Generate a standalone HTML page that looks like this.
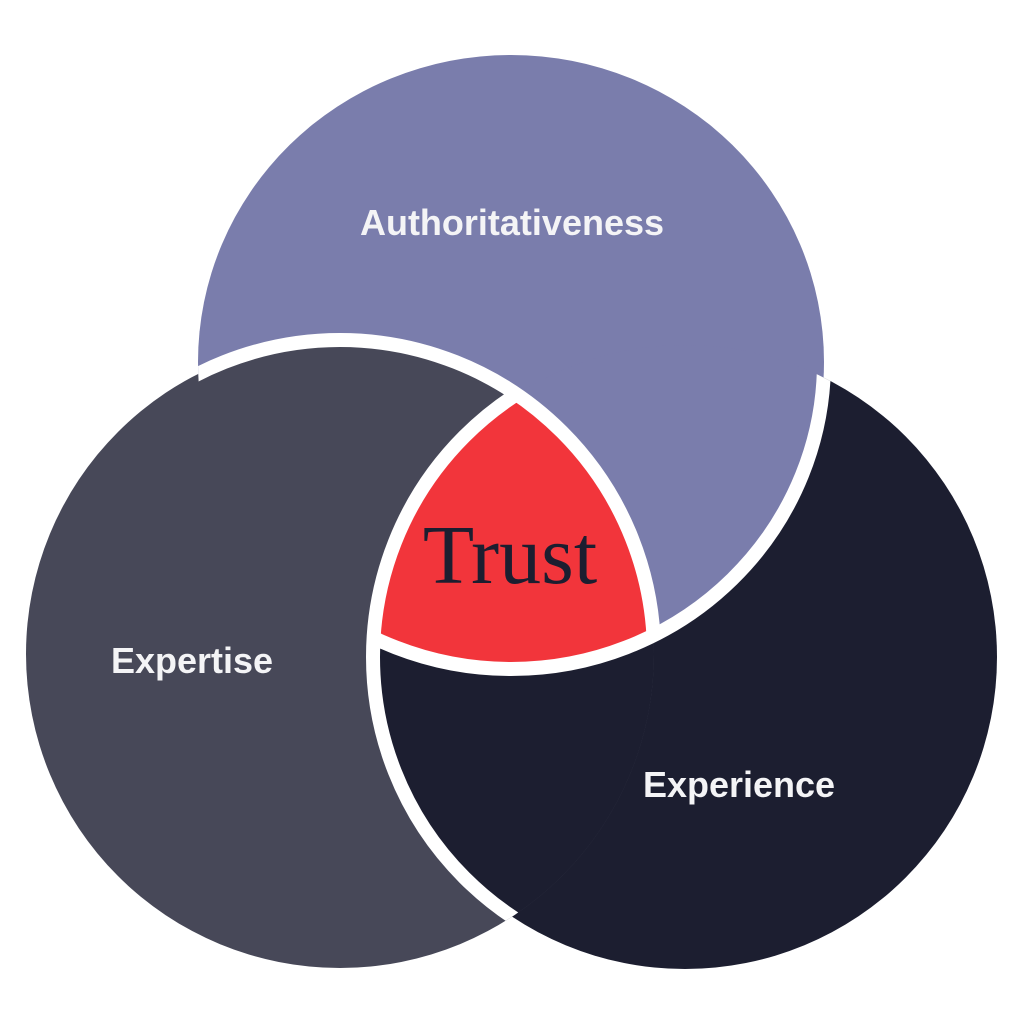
<!DOCTYPE html>
<html><head><meta charset="utf-8"><style>html,body{margin:0;padding:0;background:#fff}svg{display:block}</style></head>
<body>
<svg width="1024" height="1024" viewBox="0 0 1024 1024" xmlns="http://www.w3.org/2000/svg">
<defs>
<clipPath id="cL"><circle cx="340" cy="654" r="314"/></clipPath>
<clipPath id="cR"><circle cx="685" cy="657" r="312"/></clipPath>
<clipPath id="cT"><ellipse cx="511" cy="362" rx="313" ry="307"/></clipPath>
</defs>
<rect width="1024" height="1024" fill="#fff"/>
<circle cx="685" cy="657" r="312" fill="#1c1e30"/>
<ellipse cx="511" cy="362" rx="313" ry="307" fill="#7a7dac"/>
<circle cx="340" cy="654" r="314" fill="#474858"/>
<g clip-path="url(#cL)"><circle cx="685" cy="657" r="312" fill="#1c1e30"/></g>
<g clip-path="url(#cR)"><ellipse cx="511" cy="362" rx="313" ry="307" fill="#7a7dac"/></g>
<g clip-path="url(#cL)"><g clip-path="url(#cR)"><ellipse cx="511" cy="362" rx="313" ry="307" fill="#f2353b"/></g></g>
<g clip-path="url(#cR)"><ellipse cx="511" cy="362" rx="313" ry="307" fill="none" stroke="#fff" stroke-width="14"/></g>
<g clip-path="url(#cT)"><circle cx="340" cy="654" r="314" fill="none" stroke="#fff" stroke-width="14"/></g>
<g clip-path="url(#cL)"><circle cx="685" cy="657" r="312" fill="none" stroke="#fff" stroke-width="14"/></g>
<g font-family="'Liberation Sans', sans-serif" font-weight="bold" font-size="36" fill="#f4f4f6" text-anchor="middle">
<text x="512" y="235">Authoritativeness</text>
<text x="192" y="673">Expertise</text>
<text x="739" y="797">Experience</text>
</g>
<text x="510" y="583" font-family="'Liberation Serif', serif" font-size="84" fill="#1c1e30" text-anchor="middle">Trust</text>
</svg>
</body></html>
